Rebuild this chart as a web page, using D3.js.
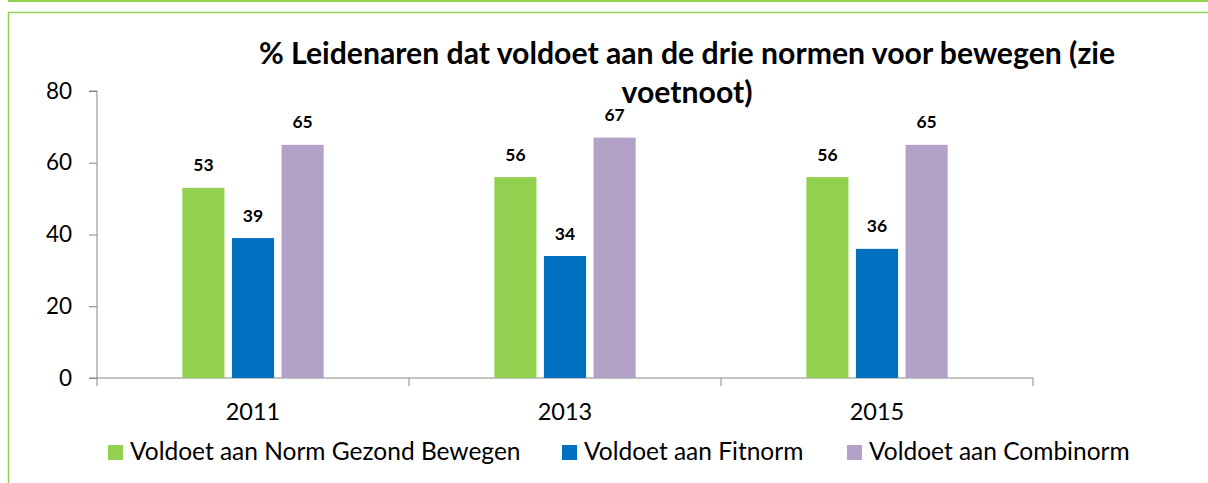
<!DOCTYPE html>
<html>
<head>
<meta charset="utf-8">
<style>
    body { margin: 0; background: #fff; }
    svg { display: block; font-family: Lato, 'Open Sans', sans-serif; }
    .axis .domain, .axis .tick line { stroke: #868686; }
    .axis text { fill: #000; font-family: Lato, sans-serif; }
    .y text { font-size: 22.5px; }
    .x text { font-size: 23.5px; }
    .lbl { font-size: 17.5px; font-weight: bold; }
    .title { font-size: 30.2px; font-weight: bold; }
    .legend text { font-size: 24.5px; }
</style>
</head>
<body>
<svg width="1208" height="483"></svg>
<script src="https://d3js.org/d3.v7.min.js"></script>
<script>
    // chart data
    let years = ["2011", "2013", "2015"]
    let seriesNames = ["Voldoet aan Norm Gezond Bewegen", "Voldoet aan Fitnorm", "Voldoet aan Combinorm"]
    let gezond = [53, 56, 56]
    let fit = [39, 34, 36]
    let combi = [65, 67, 65]
    let yTicks = [0, 20, 40, 60, 80]

    let colors = ["#92D050", "#0070C0", "#B3A2C7"]
    let values = [gezond, fit, combi]

    let svg = d3.select("svg")

    // frame lines
    svg.append("line").attr("x1", 8).attr("x2", 1208).attr("y1", 1).attr("y2", 1)
        .attr("stroke", "#92D050").attr("stroke-width", 2)
    svg.append("rect").attr("x", 8.5).attr("y", 12.5).attr("width", 1300).attr("height", 600)
        .attr("fill", "none").attr("stroke", "#92D050").attr("stroke-width", 1.5)

    let margin = { left: 97, right: 175, top: 91, bottom: 105 }
    let width = 1208 - margin.left - margin.right
    let height = 483 - margin.top - margin.bottom

    let g = svg.append("g").attr("transform", `translate(${margin.left},${margin.top})`)

    let x = d3.scaleBand().domain(years).range([0, width])
    let y = d3.scaleLinear().domain([0, 80]).range([height, 0])

    let barW = x.bandwidth() * 0.135
    let gap = x.bandwidth() * 0.024
    let groupW = barW * 3 + gap * 2

    // y axis
    g.append("g").attr("class", "axis y")
        .call(d3.axisLeft(y).tickValues(yTicks).tickSize(8).tickPadding(17))
        .call(a => a.select(".domain").attr("d", `M-8,0H0V${height}`))

    // x axis with ticks at category borders
    let xa = g.append("g").attr("class", "axis x").attr("transform", `translate(0,${height})`)
    xa.call(d3.axisBottom(x).tickSize(0).tickPadding(25))
    xa.select(".domain").attr("d", `M-8,0H${width}`)
    xa.selectAll(".bnd").data(d3.range(years.length + 1)).join("line")
        .attr("x1", i => i * x.step()).attr("x2", i => i * x.step())
        .attr("y1", 0).attr("y2", 8).attr("stroke", "#868686")

    // bars
    values.forEach((vals, s) => {
        let bg = g.append("g")
        bg.selectAll("rect").data(years).join("rect")
            .attr("x", (d, i) => x(d) + (x.bandwidth() - groupW) / 2 + s * (barW + gap))
            .attr("y", (d, i) => y(vals[i]))
            .attr("width", barW)
            .attr("height", (d, i) => height - y(vals[i]))
            .attr("fill", colors[s])
        bg.selectAll("text").data(years).join("text")
            .attr("class", "lbl")
            .attr("text-anchor", "middle")
            .attr("x", (d, i) => x(d) + (x.bandwidth() - groupW) / 2 + s * (barW + gap) + barW / 2)
            .attr("y", (d, i) => y(vals[i]) - 16.5)
            .text((d, i) => vals[i])
    })

    // title
    let title = svg.append("text").attr("class", "title").attr("text-anchor", "middle")
        .attr("x", 687).attr("y", 64)
    title.append("tspan").attr("x", 687).text("% Leidenaren dat voldoet aan de drie normen voor bewegen (zie")
    title.append("tspan").attr("x", 687).attr("dy", 39).text("voetnoot)")

    // legend
    let legX = [108, 562, 847]
    let leg = svg.append("g").attr("class", "legend")
    seriesNames.forEach((n, i) => {
        leg.append("rect").attr("x", legX[i]).attr("y", 445).attr("width", 15).attr("height", 15).attr("fill", colors[i])
        leg.append("text").attr("x", legX[i] + 22).attr("y", 460).text(n)
    })
</script>
</body>
</html>
